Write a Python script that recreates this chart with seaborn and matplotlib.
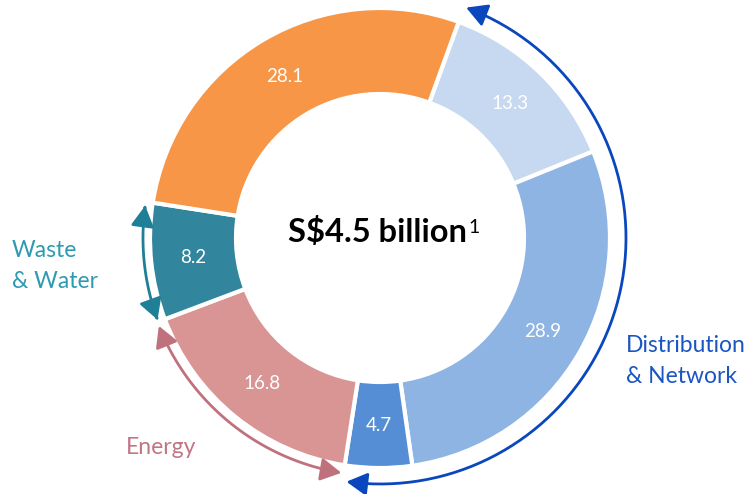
import numpy as np
import matplotlib
matplotlib.use("Agg")
import matplotlib.pyplot as plt
from matplotlib.patches import FancyArrowPatch
from matplotlib.path import Path
import seaborn as sns

sns.set_theme(style="white")
plt.rcParams["font.family"] = ["Lato", "DejaVu Sans"]

# segments, clockwise from the top-right boundary
seg_values = [13.3, 28.9, 4.7, 16.8, 8.2, 28.1]
seg_colors = ["#C6D9F1", "#8EB4E3", "#558ED5", "#D99594", "#31859C", "#F79646"]
seg_explode = [0, 0, 0.012, 0, 0.012, 0]

# groups shown by the outer arcs: (first segment, last segment, arc colour)
groups = [
    (0, 2, "#0A47BE"),
    (3, 3, "#C0717E"),
    (4, 4, "#1F7F96"),
]
group_labels = ["Distribution\n& Network", "Energy", "Waste\n& Water"]
total_text = "S$4.5 billion"

W, H = 756, 494
cx, cy = 380, H - 238
R, ring = 230, 86
start = 20  # degrees clockwise from 12 o'clock

fig = plt.figure(figsize=(W / 100, H / 100), dpi=100)
ax = fig.add_axes([0, 0, 1, 1])

wedges, _, autotexts = ax.pie(
    seg_values, colors=seg_colors, explode=seg_explode, radius=R, center=(cx, cy),
    startangle=90 - start, counterclock=False, autopct="%.1f", pctdistance=0.815,
    wedgeprops=dict(width=ring, edgecolor="white", linewidth=3),
    textprops=dict(color="white", fontsize=13.5),
)

ax.set_xlim(0, W)
ax.set_ylim(0, H)
ax.set_aspect("equal")
ax.axis("off")


def pt(a, r):
    a = np.radians(a)
    return cx + r * np.sin(a), cy + r * np.cos(a)


bounds = start + np.concatenate([[0], np.cumsum(seg_values)]) * 3.6
arc_r = {0: 246, 3: 238, 4: 237}
for i0, i1, lc in groups:
    a0, a1 = bounds[i0] + 0.5, bounds[i1 + 1] - 1.0
    aa = np.linspace(a0, a1, 80)
    verts = [pt(a, arc_r[i0]) for a in aa]
    arrow = FancyArrowPatch(path=Path(verts), arrowstyle="<|-|>,head_length=0.9,head_width=0.5",
                            mutation_scale=14, color=lc, lw=2)
    ax.add_patch(arrow)

ax.text(626, H - 361, group_labels[0], color="#1A55C2", fontsize=16.5,
        ha="left", va="center", linespacing=1.6)
ax.text(126, H - 447, group_labels[1], color="#C27585", fontsize=16.5, ha="left", va="center")
ax.text(12, H - 266, group_labels[2], color="#2E9AB2", fontsize=16.5,
        ha="left", va="center", linespacing=1.6)

main = ax.text(cx - 2, H - 232, total_text, fontsize=23.5, fontweight="bold",
               color="black", ha="center", va="center")
ax.annotate("1", xy=(1, 0.36), xycoords=main, xytext=(0.5, 0), textcoords="offset points",
            fontsize=14, color="black", ha="left", va="bottom")

fig.savefig("out.png", dpi=100)
